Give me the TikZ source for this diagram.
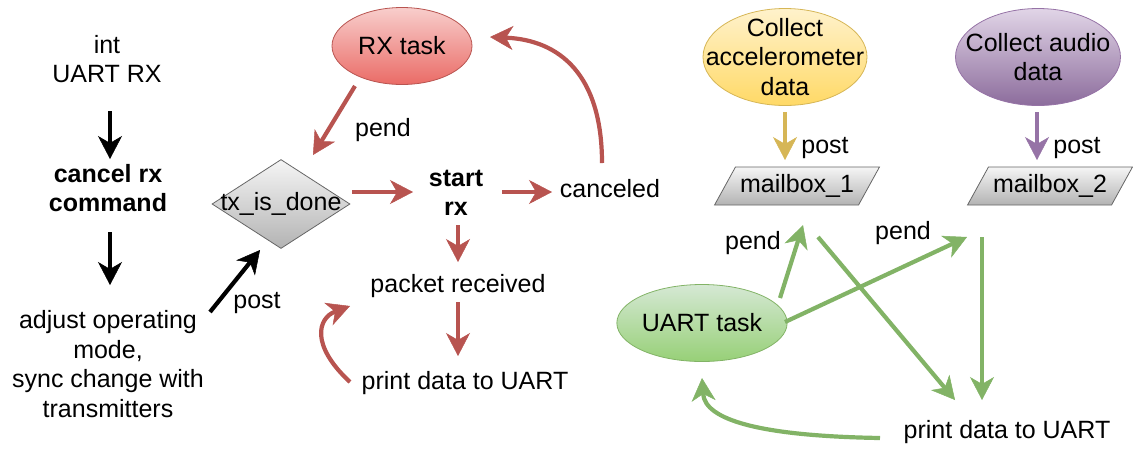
\documentclass[tikz,border=0pt]{standalone}
\usepackage{fontspec}
\setmainfont{Liberation Sans}
\usetikzlibrary{arrows.meta,shapes.geometric}

\definecolor{redline}{HTML}{B85450}
\definecolor{greenline}{HTML}{82B366}
\definecolor{yellowline}{HTML}{D6B656}
\definecolor{purpleline}{HTML}{9673A6}
\definecolor{grayline}{HTML}{666666}

\tikzset{
  txt/.style={inner sep=0pt, align=center},
  tip/.style={-{Stealth[length=23pt,width=24pt,inset=7pt,line width=0.5pt]}},
  arrK/.style={tip, line width=4.2pt, draw=black},
  arrR/.style={tip, line width=4.2pt, draw=redline},
  arrG/.style={tip, line width=4.2pt, draw=greenline},
  arrY/.style={tip, line width=4.2pt, draw=yellowline},
  arrP/.style={tip, line width=4.2pt, draw=purpleline},
  task/.style={ellipse, inner sep=0pt, line width=0.8pt},
  redtask/.style={task, draw=redline, top color={rgb,255:red,248;green,206;blue,204}, bottom color={rgb,255:red,234;green,107;blue,102}},
  greentask/.style={task, draw=greenline, top color={rgb,255:red,213;green,232;blue,212}, bottom color={rgb,255:red,151;green,208;blue,119}},
  yellowtask/.style={task, draw=yellowline, top color={rgb,255:red,255;green,242;blue,204}, bottom color={rgb,255:red,255;green,217;blue,102}},
  purpletask/.style={task, draw=purpleline, top color={rgb,255:red,225;green,213;blue,231}, bottom color={rgb,255:red,140;green,108;blue,156}},
  grayfill/.style={draw=grayline, line width=0.8pt, top color={rgb,255:red,245;green,245;blue,245}, bottom color={rgb,255:red,179;green,179;blue,179}},
  mailbox/.style={grayfill, trapezium, trapezium left angle=50, trapezium right angle=130,
    trapezium stretches=true, minimum width=165pt, minimum height=38pt, inner sep=0pt},
}

\begin{document}
\begin{tikzpicture}[x=1pt, y=-1pt, font=\fontsize{25}{29.5}\selectfont]
\useasboundingbox (0,0) rectangle (1133,448);

% left column: cancel command flow
\node[txt] (n1) at (107,59) {int\\UART RX};
\node[txt, font=\fontsize{25}{29.5}\selectfont\bfseries] (n2) at (108,188) {cancel rx\\command};
\node[txt] (n3) at (108,364) {adjust operating\\mode,\\sync change with\\transmitters};

% receive loop
\node[grayfill, diamond, minimum width=138pt, minimum height=89pt, inner sep=0pt,
      label={[txt]center:tx\_is\_done}] (txd) at (281,204) {};
\node[redtask, minimum width=140pt, minimum height=77pt] (rx) at (402,46) {RX task};
\node[txt, font=\fontsize{25}{29.5}\selectfont\bfseries] (sr) at (456,193) {start\\rx};
\node[txt] (canc) at (610,189) {canceled};
\node[txt] (pkt) at (458,286) {packet received};
\node[txt] (pr1) at (465,383) {print data to UART};
\node[txt] (postA) at (257,303) {post};
\node[txt] (pendA) at (383,130) {pend};

% data collection and UART output
\node[yellowtask, minimum width=164pt, minimum height=97pt,
      label={[txt]center:Collect\\accelerometer\\data}] (acc) at (785,57) {};
\node[purpletask, minimum width=165pt, minimum height=97pt,
      label={[txt]center:Collect audio\\data}] (aud) at (1038,57) {};
\node[mailbox] (mb1) at (797,186) {mailbox\_1};
\node[mailbox] (mb2) at (1050,186) {mailbox\_2};
\node[greentask, minimum width=140pt, minimum height=77pt] (uart) at (702,323) {UART task};
\node[txt] (pr2) at (1007,432) {print data to UART};
\node[txt] (postB) at (825,148) {post};
\node[txt] (postC) at (1077,148) {post};
\node[txt] (pendB) at (753,243) {pend};
\node[txt] (pendC) at (903,233) {pend};

% black connectors
\draw[arrK] ([shift={(3,52)}]n1.center) -- ([shift={(2,-29)}]n2.center);
\draw[arrK] ([shift={(2,44)}]n2.center) -- ([shift={(2,-79)}]n3.center);
\draw[arrK] ([shift={(102,-52)}]n3.center) -- ([shift={(-21,46)}]txd.center);

% red connectors
\draw[arrR] ([shift={(-47,40)}]rx.center) -- ([shift={(32,-49)}]txd.center);
\draw[arrR] ([shift={(71,-12)}]txd.center) -- ([shift={(-43,-1)}]sr.center);
\draw[arrR] ([shift={(46,-1)}]sr.center) -- ([shift={(-58,3)}]canc.center);
\draw[arrR] ([shift={(-8,-26)}]canc.center) .. controls +(0,-88) and +(70,3) .. ([shift={(88,-9)}]rx.center);
\draw[arrR] ([shift={(2,32)}]sr.center) -- ([shift={(0,-24)}]pkt.center);
\draw[arrR] ([shift={(0,16)}]pkt.center) -- ([shift={(-7,-27)}]pr1.center);
\draw[arrR] ([shift={(-115,-1)}]pr1.center) .. controls +(-40,-37) and +(-32,12) .. ([shift={(-108,20)}]pkt.center);

% post connectors
\draw[arrY] ([shift={(0,55)}]acc.center) -- ([shift={(-12,-26)}]mb1.center);
\draw[arrP] ([shift={(-1,55)}]aud.center) -- ([shift={(-13,-26)}]mb2.center);

% green connectors
\draw[arrG] ([shift={(78,-25)}]uart.center) -- ([shift={(6,39)}]mb1.center);
\draw[arrG] ([shift={(83,-1)}]uart.center) -- ([shift={(-83,51)}]mb2.center);
\draw[arrG] ([shift={(21,51)}]mb1.center) -- ([shift={(-52,-32)}]pr2.center);
\draw[arrG] ([shift={(-68,51)}]mb2.center) -- ([shift={(-25,-32)}]pr2.center);
\draw[arrG] ([shift={(-127,6)}]pr2.center) .. controls +(-120,-2) and +(3,42) .. ([shift={(0,55)}]uart.center);
\end{tikzpicture}
\end{document}
